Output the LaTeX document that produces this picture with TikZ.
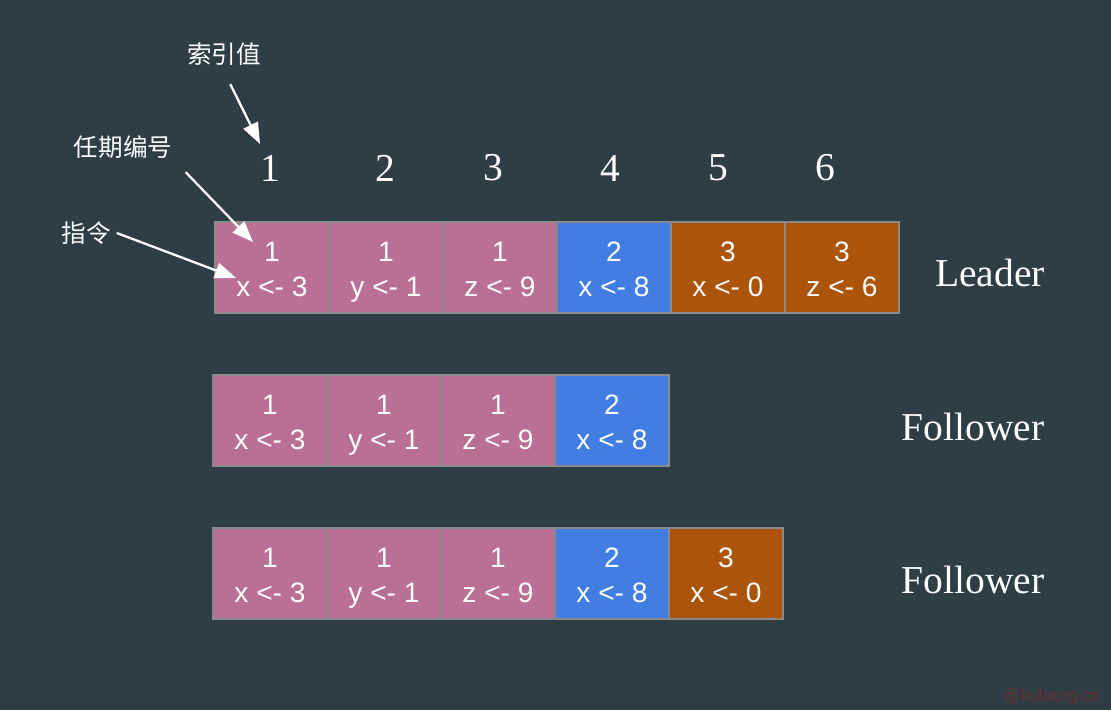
\documentclass[tikz,border=0pt]{standalone}
\usepackage{fontspec}
\setmainfont{Liberation Serif}
\setsansfont{Liberation Sans}
\newfontfamily\cjk{Noto Sans CJK SC}
\usetikzlibrary{arrows.meta}
\definecolor{slate}{RGB}{47,61,69}
\definecolor{termone}{RGB}{185,112,148}
\definecolor{termtwo}{RGB}{66,125,228}
\definecolor{termthree}{RGB}{172,84,10}
\definecolor{cellrule}{RGB}{138,138,138}
\definecolor{stamp}{RGB}{105,48,52}
\newcommand{\logline}[2]{#1\rule{0pt}{18.6pt}\\#2\strut}
\tikzset{
  entry/.style={draw=cellrule, line width=1.1pt, fill=#1, text=white,
    minimum width=2.28cm, minimum height=1.82cm, inner sep=0pt,
    align=center, font=\sffamily\fontsize{16}{20}\selectfont},
  hint/.style={draw=white, line width=1.3pt, -{Triangle[length=12pt,width=9pt]}},
  tag/.style={text=white, font=\cjk\fontsize{14}{16}\selectfont},
  role/.style={text=white, font=\fontsize{22.5}{26}\selectfont},
  index/.style={text=white, font=\fontsize{22.5}{26}\selectfont}
}

\begin{document}
\begin{tikzpicture}[x=0.02cm, y=-0.02cm]
  \fill[slate] (0,0) rectangle (1111,710);
  \useasboundingbox (0,0) rectangle (1111,710);

  % Index values
  \node[index] (ix1) at (270,168) {1};
  \node[index] (ix2) at (385,168) {2};
  \node[index] (ix3) at (493,168) {3};
  \node[index] (ix4) at (610,168) {4};
  \node[index] (ix5) at (718,168) {5};
  \node[index] (ix6) at (825,168) {6};

  % Leader log
  \node[entry=termone] (L1) at (272,267.5) {\logline{1}{x <- 3}};
  \node[entry=termone] (L2) at (386,267.5) {\logline{1}{y <- 1}};
  \node[entry=termone] (L3) at (500,267.5) {\logline{1}{z <- 9}};
  \node[entry=termtwo] (L4) at (614,267.5) {\logline{2}{x <- 8}};
  \node[entry=termthree] (L5) at (728,267.5) {\logline{3}{x <- 0}};
  \node[entry=termthree] (L6) at (842,267.5) {\logline{3}{z <- 6}};
  \node[role] (leader) at (990,273) {Leader};

  % First follower log
  \node[entry=termone] (A1) at (270,420.5) {\logline{1}{x <- 3}};
  \node[entry=termone] (A2) at (384,420.5) {\logline{1}{y <- 1}};
  \node[entry=termone] (A3) at (498,420.5) {\logline{1}{z <- 9}};
  \node[entry=termtwo] (A4) at (612,420.5) {\logline{2}{x <- 8}};
  \node[role] (followA) at (973,427) {Follower};

  % Second follower log
  \node[entry=termone] (B1) at (270,573.5) {\logline{1}{x <- 3}};
  \node[entry=termone] (B2) at (384,573.5) {\logline{1}{y <- 1}};
  \node[entry=termone] (B3) at (498,573.5) {\logline{1}{z <- 9}};
  \node[entry=termtwo] (B4) at (612,573.5) {\logline{2}{x <- 8}};
  \node[entry=termthree] (B5) at (726,573.5) {\logline{3}{x <- 0}};
  \node[role] (followB) at (973,580) {Follower};

  % Callouts
  \node[tag] (idxlab) at (224,54) {索引值};
  \node[tag] (termlab) at (123,147) {任期编号};
  \node[tag] (cmdlab) at (86,233) {指令};
  \coordinate (idxtip) at (260,144);
  \coordinate (termtip) at (253,242);
  \coordinate (cmdtip) at (236,278);
  \draw[hint, shorten <=8pt] (idxlab.south) -- (idxtip);
  \draw[hint, shorten <=6pt] (termlab.south east) -- (termtip);
  \draw[hint] (cmdlab.east) -- (cmdtip);

  \node[text=stamp, font=\sffamily\fontsize{10}{12}\selectfont] (site) at (1052,697) {@liubang.cn};
\end{tikzpicture}
\end{document}
